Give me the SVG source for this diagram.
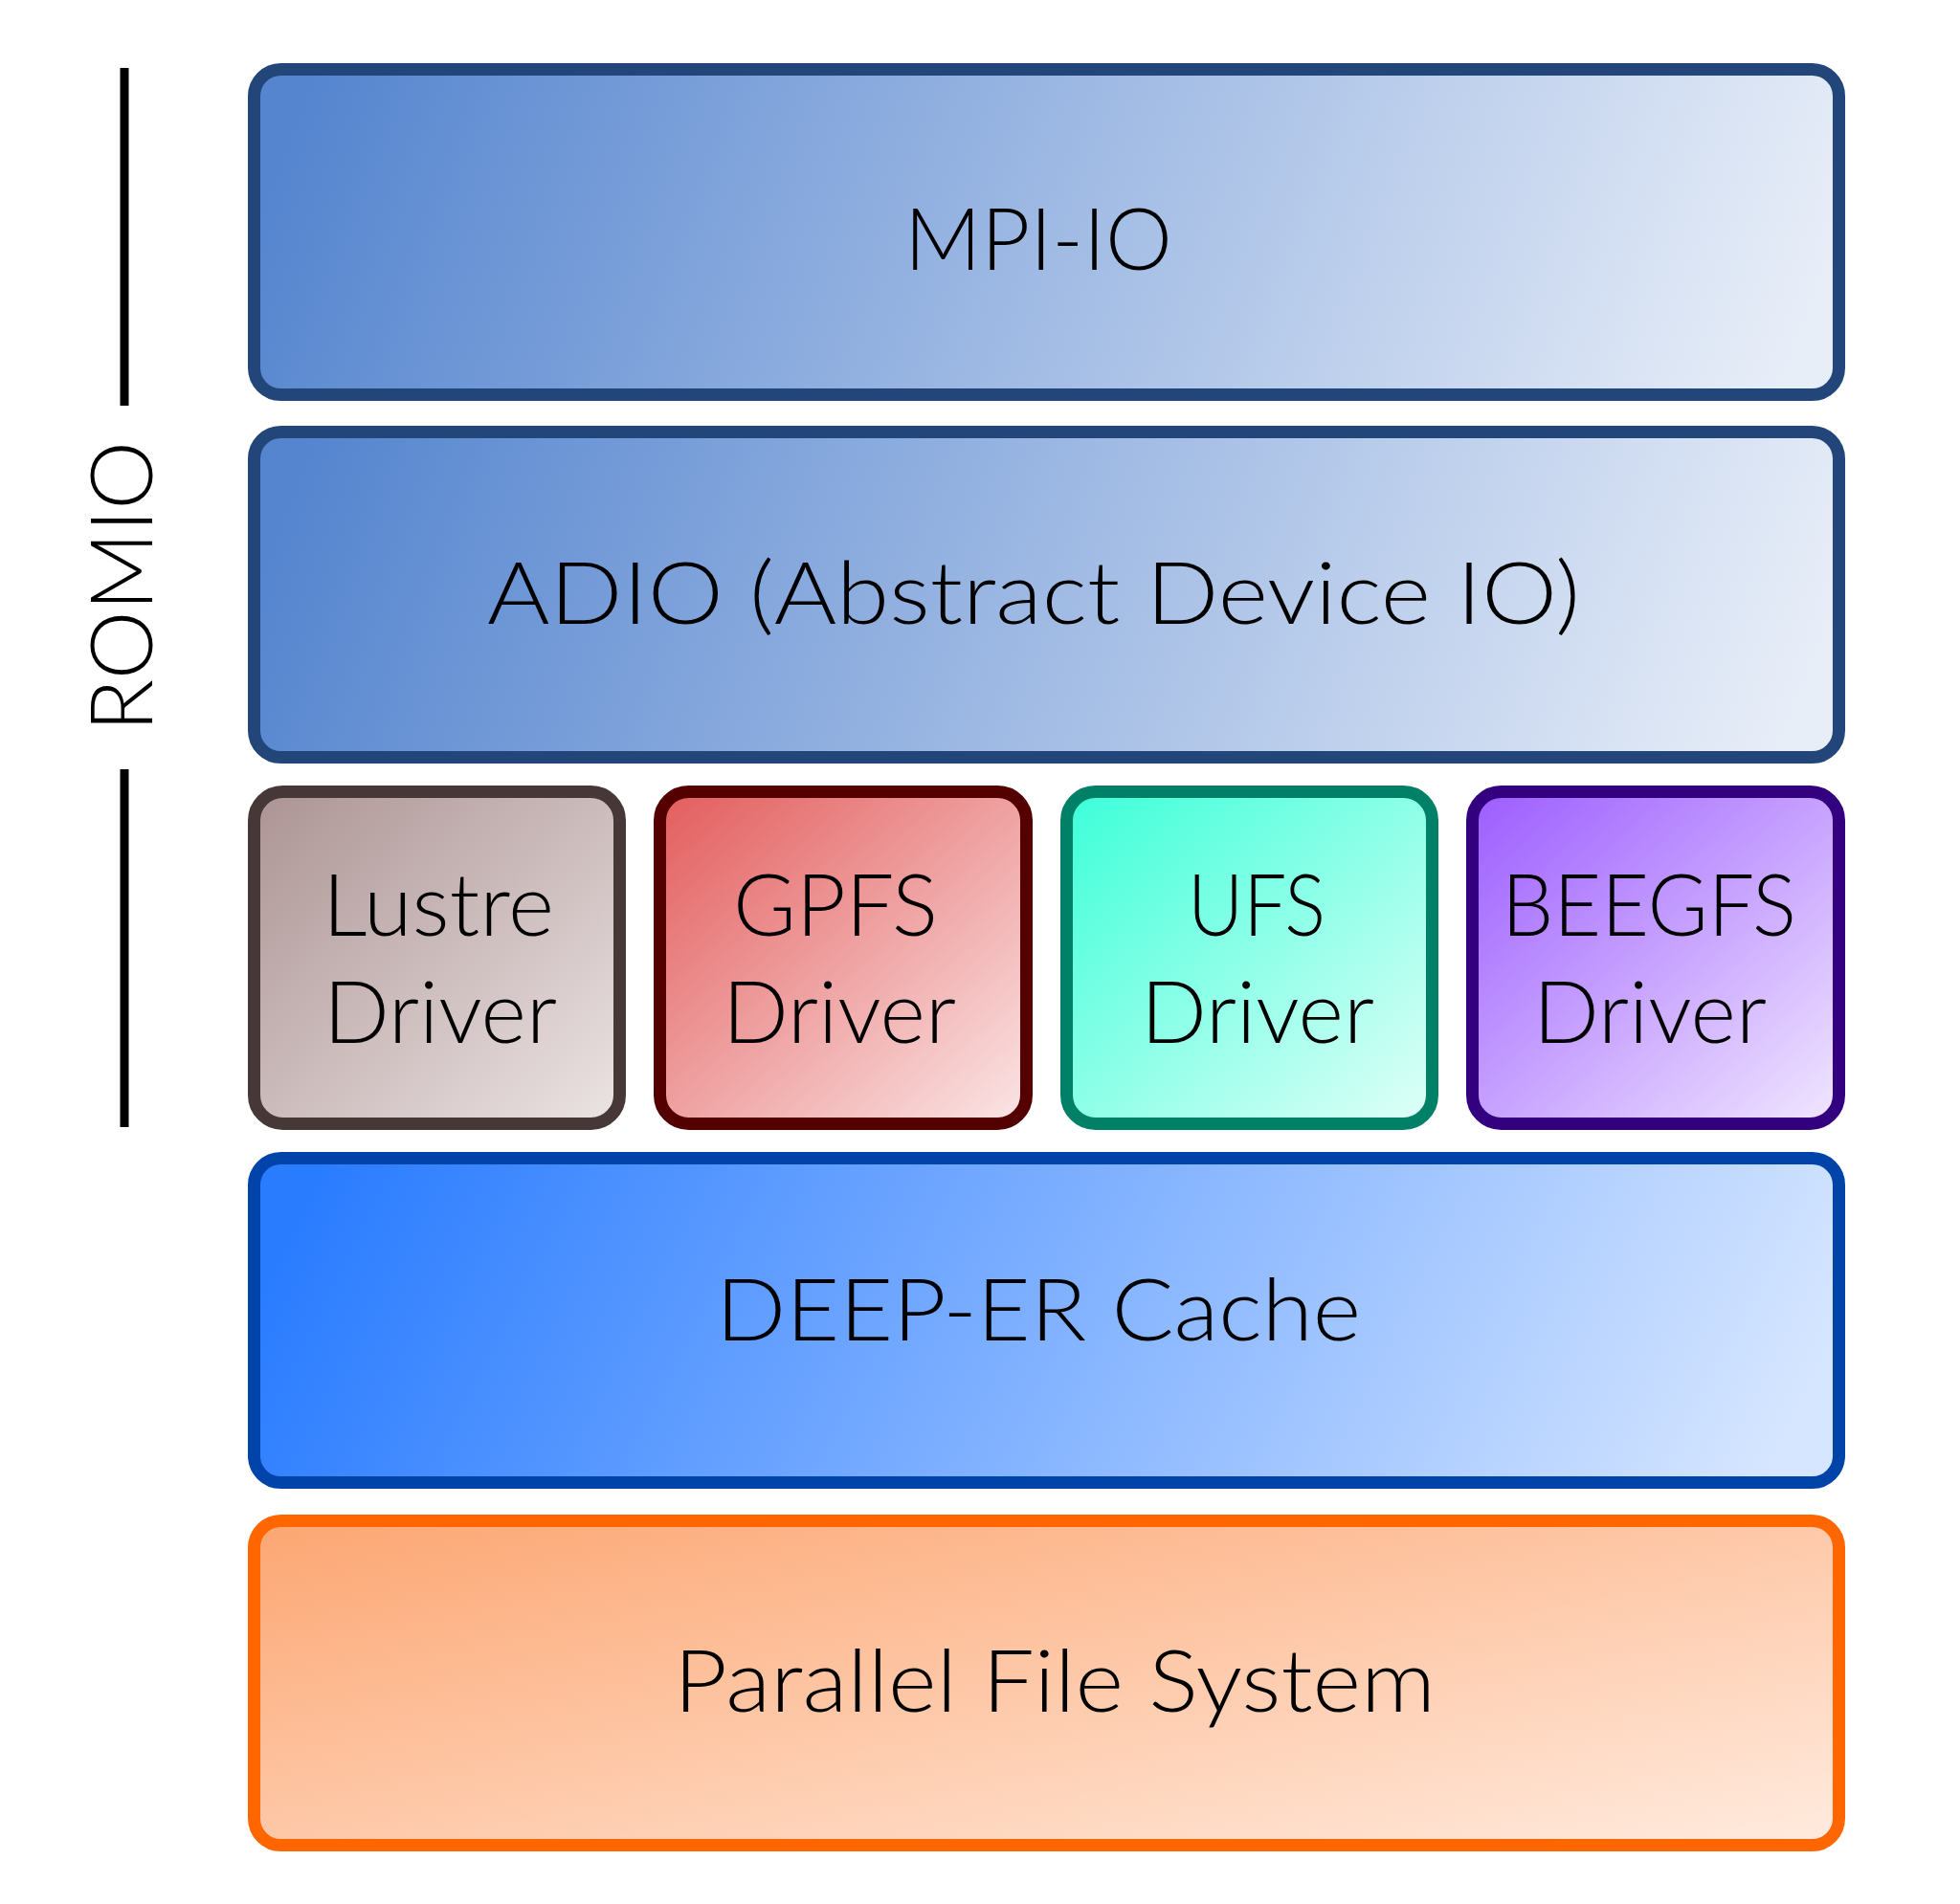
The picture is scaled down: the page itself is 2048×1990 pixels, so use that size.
<svg xmlns="http://www.w3.org/2000/svg" width="2048" height="1990" viewBox="0 0 2048 1990">
<style>
.box{stroke-width:13}
.lbl{font-family:Lato,"Liberation Sans",sans-serif;font-weight:300;font-size:90px;fill:#000;text-anchor:middle}
.bar{stroke:#000;stroke-width:9}
</style>
<defs>
<linearGradient id="gBlue" x1="0" y1="0.46" x2="1" y2="0.54"><stop offset="0" stop-color="#5585cf"/><stop offset="1" stop-color="#e8eef8"/></linearGradient>
<linearGradient id="gLustre" x1="0" y1="0" x2="1" y2="1"><stop offset="0" stop-color="#ac9393"/><stop offset="1" stop-color="#ece4e4"/></linearGradient>
<linearGradient id="gGpfs" x1="0" y1="0" x2="1" y2="1"><stop offset="0" stop-color="#e35c5c"/><stop offset="1" stop-color="#fbe6e6"/></linearGradient>
<linearGradient id="gUfs" x1="0" y1="0" x2="1" y2="1"><stop offset="0" stop-color="#3bffd8"/><stop offset="1" stop-color="#e1fff8"/></linearGradient>
<linearGradient id="gBee" x1="0" y1="0" x2="1" y2="1"><stop offset="0" stop-color="#9c5cff"/><stop offset="1" stop-color="#f1e7ff"/></linearGradient>
<linearGradient id="gDeep" x1="0" y1="0.45" x2="1" y2="0.55"><stop offset="0" stop-color="#2a7cff"/><stop offset="1" stop-color="#d6e6ff"/></linearGradient>
<linearGradient id="gPfs" x1="0" y1="0" x2="1" y2="1"><stop offset="0" stop-color="#fca672"/><stop offset="1" stop-color="#ffebdf"/></linearGradient>
</defs>

<g id="romio">
<line class="bar" x1="130" y1="71" x2="130" y2="424"/>
<line class="bar" x1="130" y1="804" x2="130" y2="1178"/>
<text class="lbl" transform="translate(159,613) rotate(-90)" x="0" y="0" textLength="304" lengthAdjust="spacingAndGlyphs">ROMIO</text>
</g>

<g id="mpiio">
<rect class="box" x="265.5" y="72.5" width="1656" height="340" rx="28" fill="url(#gBlue)" stroke="#22467a"/>
<text class="lbl" x="1085" y="282" textLength="280" lengthAdjust="spacingAndGlyphs">MPI-IO</text>
</g>

<g id="adio">
<rect class="box" x="265.5" y="451.5" width="1656" height="340" rx="28" fill="url(#gBlue)" stroke="#22467a"/>
<text class="lbl" x="1080" y="652" textLength="1142" lengthAdjust="spacingAndGlyphs">ADIO (Abstract Device IO)</text>
</g>

<g id="lustre">
<rect class="box" x="265.5" y="827.5" width="382" height="347" rx="30" fill="url(#gLustre)" stroke="#473838"/>
<text class="lbl" x="458" y="978" textLength="242" lengthAdjust="spacingAndGlyphs">Lustre</text>
<text class="lbl" x="460" y="1090" textLength="244" lengthAdjust="spacingAndGlyphs">Driver</text>
</g>

<g id="gpfs">
<rect class="box" x="689.5" y="827.5" width="383" height="347" rx="30" fill="url(#gGpfs)" stroke="#550000"/>
<text class="lbl" x="873" y="978" textLength="214" lengthAdjust="spacingAndGlyphs">GPFS</text>
<text class="lbl" x="877" y="1090" textLength="244" lengthAdjust="spacingAndGlyphs">Driver</text>
</g>

<g id="ufs">
<rect class="box" x="1114.5" y="827.5" width="382" height="347" rx="30" fill="url(#gUfs)" stroke="#008066"/>
<text class="lbl" x="1313" y="978" textLength="144" lengthAdjust="spacingAndGlyphs">UFS</text>
<text class="lbl" x="1314" y="1090" textLength="244" lengthAdjust="spacingAndGlyphs">Driver</text>
</g>

<g id="beegfs">
<rect class="box" x="1538.5" y="827.5" width="383" height="347" rx="30" fill="url(#gBee)" stroke="#330080"/>
<text class="lbl" x="1723" y="978" textLength="308" lengthAdjust="spacingAndGlyphs">BEEGFS</text>
<text class="lbl" x="1724" y="1090" textLength="244" lengthAdjust="spacingAndGlyphs">Driver</text>
</g>

<g id="deeper">
<rect class="box" x="265.5" y="1210.5" width="1656" height="339" rx="28" fill="url(#gDeep)" stroke="#0044aa"/>
<text class="lbl" x="1085" y="1401" textLength="674" lengthAdjust="spacingAndGlyphs">DEEP-ER Cache</text>
</g>

<g id="pfs">
<rect class="box" x="265.5" y="1589.5" width="1656" height="339" rx="28" fill="url(#gPfs)" stroke="#ff6600"/>
<text class="lbl" x="1102" y="1789" textLength="796" lengthAdjust="spacingAndGlyphs">Parallel File System</text>
</g>

<g id="connectors"></g>
</svg>
